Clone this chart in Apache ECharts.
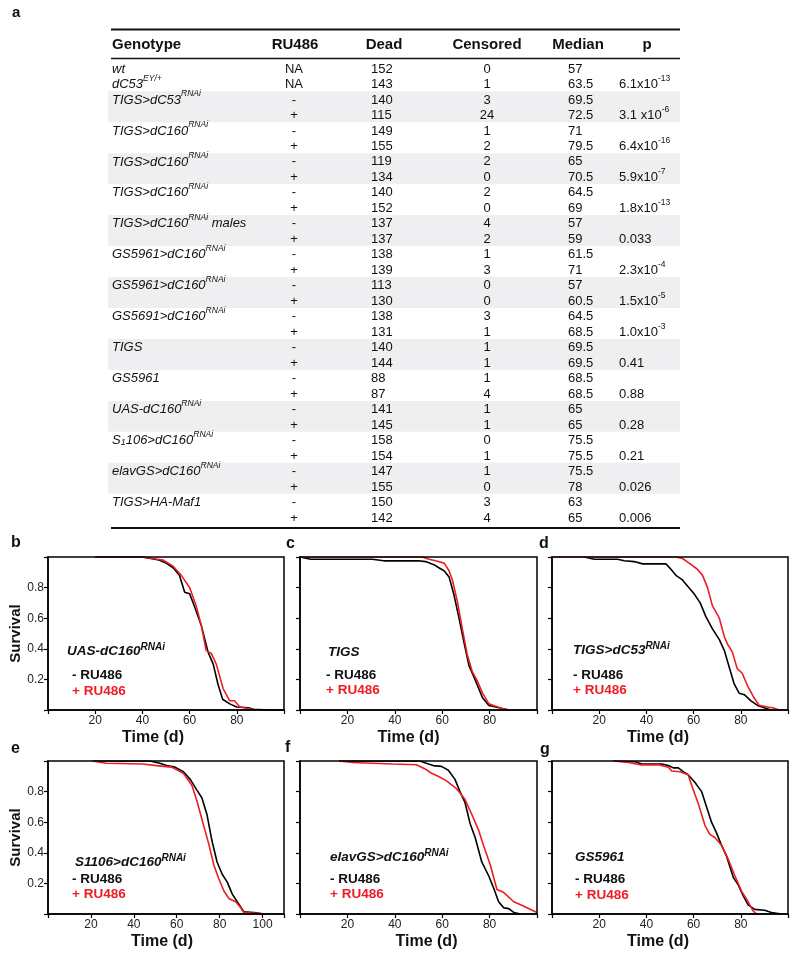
<!DOCTYPE html>
<html><head><meta charset="utf-8">
<script src="https://cdn.jsdelivr.net/npm/echarts@6/dist/echarts.min.js"></script>
<style>html,body{margin:0;padding:0;background:#fff}#c{width:800px;height:958px}</style>
</head><body><div id="c"></div>
<script>
// ---------------- table data ----------------
const columns = ['Genotype', 'RU486', 'Dead', 'Censored', 'Median', 'p'];
const genotype = ['wt', 'dC53^{EY/+}', 'TIGS>dC53^{RNAi}', '', 'TIGS>dC160^{RNAi}', '', 'TIGS>dC160^{RNAi}', '',
  'TIGS>dC160^{RNAi}', '', 'TIGS>dC160^{RNAi} males', '', 'GS5961>dC160^{RNAi}', '', 'GS5961>dC160^{RNAi}', '',
  'GS5691>dC160^{RNAi}', '', 'TIGS', '', 'GS5961', '', 'UAS-dC160^{RNAi}', '', 'S_{1}106>dC160^{RNAi}', '',
  'elavGS>dC160^{RNAi}', '', 'TIGS>HA-Maf1', ''];
const ru486 = ['NA', 'NA', '-', '+', '-', '+', '-', '+', '-', '+', '-', '+', '-', '+', '-', '+', '-', '+', '-', '+',
  '-', '+', '-', '+', '-', '+', '-', '+', '-', '+'];
const dead = [152, 143, 140, 115, 149, 155, 119, 134, 140, 152, 137, 137, 138, 139, 113, 130, 138, 131, 140, 144,
  88, 87, 141, 145, 158, 154, 147, 155, 150, 142];
const censored = [0, 1, 3, 24, 1, 2, 2, 0, 2, 0, 4, 2, 1, 3, 0, 0, 3, 1, 1, 1, 1, 4, 1, 1, 0, 1, 1, 0, 3, 4];
const median = ['57', '63.5', '69.5', '72.5', '71', '79.5', '65', '70.5', '64.5', '69', '57', '59', '61.5', '71',
  '57', '60.5', '64.5', '68.5', '69.5', '69.5', '68.5', '68.5', '65', '65', '75.5', '75.5', '75.5', '78', '63', '65'];
const pValue = ['', '6.1x10^{-13}', '', '3.1 x10^{-6}', '', '6.4x10^{-16}', '', '5.9x10^{-7}', '', '1.8x10^{-13}',
  '', '0.033', '', '2.3x10^{-4}', '', '1.5x10^{-5}', '', '1.0x10^{-3}', '', '0.41', '', '0.88', '', '0.28', '', '0.21',
  '', '0.026', '', '0.006'];
const shadedRows = [2, 6, 10, 14, 18, 22, 26]; // first row of each shaded pair

// ---------------- survival curves [day, fraction alive] ----------------
const bMinus = [[20,1],[40,1],[47,0.98],[50,0.96],[53,0.93],[55.7,0.88],[57.9,0.77],[60,0.76],[62,0.68],[65,0.55],[67.8,0.38],[70,0.30],[72,0.17],[74,0.07],[77,0.04],[80,0.02],[85,0.015],[87,0.005],[94,0],[100,0]];
const bPlus = [[20,1],[40,1],[48.7,0.98],[53,0.94],[56.5,0.88],[60,0.80],[62.8,0.68],[65,0.55],[67,0.39],[69.2,0.37],[71.3,0.30],[74.2,0.14],[77,0.06],[79,0.06],[81.3,0.02],[87,0.003],[90,0]];
const cMinus = [[0,1],[4.5,0.985],[30.5,0.985],[35.4,0.975],[50,0.975],[53,0.97],[56.5,0.95],[58.6,0.93],[60.8,0.91],[62.9,0.87],[65,0.75],[67.1,0.60],[69.2,0.44],[71.3,0.29],[74.1,0.19],[77,0.08],[79.7,0.03],[82.6,0.02],[85.4,0.01],[88,0]];
const cPlus = [[0,1],[51.6,1],[54.4,0.985],[57.2,0.975],[60.8,0.96],[62.9,0.91],[64.3,0.85],[66.4,0.71],[68.5,0.53],[70.6,0.36],[72.7,0.25],[74.8,0.19],[77,0.11],[79.7,0.04],[82.6,0.025],[85.4,0.01],[88.2,0]];
const dMinus = [[13.7,1],[17.9,0.985],[27.8,0.985],[30.6,0.975],[34.8,0.97],[38.4,0.955],[48.3,0.955],[50.4,0.92],[52.5,0.88],[55.3,0.85],[57.4,0.81],[60.2,0.76],[62.8,0.70],[65.2,0.61],[68,0.53],[70.9,0.46],[73,0.39],[75.1,0.28],[77.2,0.17],[79.3,0.11],[81.5,0.10],[84.3,0.06],[87.1,0.03],[89.9,0.015],[92.8,0]];
const dPlus = [[0,1],[52.5,1],[55.3,0.99],[58.1,0.96],[61.6,0.92],[63.8,0.88],[65.9,0.80],[68,0.68],[70.9,0.60],[73,0.48],[74.4,0.43],[76.4,0.38],[78.5,0.27],[80.6,0.24],[82.8,0.16],[85.6,0.08],[87.8,0.03],[91.4,0.02],[93.5,0.015],[96.3,0]];
const eMinus = [[20.8,1],[47.4,1],[52.1,0.985],[55.3,0.97],[59.2,0.96],[63.1,0.93],[66.3,0.88],[69.4,0.81],[71.7,0.76],[74.1,0.65],[76.4,0.48],[78.8,0.34],[81.2,0.26],[83.5,0.21],[85.9,0.13],[88.2,0.08],[91.3,0.015],[96,0.01],[100.7,0]];
const ePlus = [[20.8,1],[27,0.985],[44.3,0.98],[50.6,0.97],[57.6,0.96],[63.1,0.92],[67.1,0.84],[69.4,0.74],[72.5,0.58],[74.9,0.46],[77.3,0.32],[79.6,0.23],[82,0.15],[84.4,0.10],[87.5,0.08],[89.9,0.04],[91.3,0.01],[97.6,0.005],[100.7,0]];
const fMinus = [[16.5,1],[50.5,1],[53.3,0.985],[56.2,0.97],[59.7,0.965],[62.6,0.94],[65.4,0.88],[67.5,0.80],[69.6,0.73],[71.8,0.59],[73.9,0.50],[76.7,0.34],[79.6,0.25],[81.7,0.17],[83.8,0.08],[86,0.04],[88.1,0.035],[90.2,0.01],[93,0]];
const fPlus = [[16.5,1],[22.1,0.99],[39.1,0.98],[49.1,0.975],[52.6,0.95],[55.5,0.92],[58.3,0.90],[61.8,0.87],[66,0.82],[69.6,0.75],[72.5,0.65],[75.3,0.55],[77.4,0.45],[80.3,0.32],[83.1,0.16],[86,0.14],[90.2,0.08],[94.5,0.05],[97.3,0.03],[100,0.01]];
const gMinus = [[26,1],[35.2,0.995],[38,0.98],[46.5,0.98],[49.3,0.97],[51.4,0.955],[53.5,0.955],[55.6,0.93],[57.7,0.91],[60.6,0.86],[63.4,0.80],[65.5,0.70],[67.6,0.60],[69.7,0.53],[71.8,0.45],[73.9,0.38],[76.8,0.24],[78.9,0.19],[81,0.12],[83.1,0.06],[85.9,0.03],[90.1,0.025],[93,0.01],[97.2,0]];
const gPlus = [[26,1],[32.4,0.99],[37.3,0.975],[45,0.975],[49.3,0.96],[50.7,0.935],[54.2,0.93],[57.7,0.91],[59.2,0.84],[62,0.72],[64.8,0.58],[66.9,0.52],[69,0.50],[71.8,0.45],[74.6,0.36],[77.5,0.25],[80.3,0.15],[83.1,0.08],[85.2,0.02],[86.6,0]];

const panelGenotype = ['UAS-dC160^{RNAi}', 'TIGS', 'TIGS>dC53^{RNAi}', 'S1106>dC160^{RNAi}', 'elavGS>dC160^{RNAi}', 'GS5961'];
const panelLetter = ['b', 'c', 'd', 'e', 'f', 'g'];
const minusLabel = '- RU486', plusLabel = '+ RU486';
const xTitle = 'Time (d)', yTitle = 'Survival';

// ---------------- layout / style ----------------
const FONT = '"Liberation Sans", Arial, Helvetica, sans-serif';
const RED = '#ee1c24';
const INK = '#111';
const panels = [
  { left: 48,  top: 557, width: 236, xMax: 100, yLab: true,  minus: bMinus, plus: bPlus, shift: -13, ann: [67, 652, 72, 675, 691] },
  { left: 300, top: 557, width: 237, xMax: 100, yLab: false, minus: cMinus, plus: cPlus, shift: -10, ann: [328, 653, 326, 675, 690] },
  { left: 552, top: 557, width: 236, xMax: 100, yLab: false, minus: dMinus, plus: dPlus, shift: -12, ann: [573, 651, 573, 675, 690] },
  { left: 48,  top: 761, width: 236, xMax: 110, yLab: true,  minus: eMinus, plus: ePlus, shift: -4,  ann: [75, 863, 72, 879, 894] },
  { left: 300, top: 761, width: 237, xMax: 100, yLab: false, minus: fMinus, plus: fPlus, shift: 8,   ann: [330, 858, 330, 879, 894] },
  { left: 552, top: 761, width: 236, xMax: 100, yLab: false, minus: gMinus, plus: gPlus, shift: -12, ann: [575, 858, 575, 879, 895] }
];
const letterPos = [[15, 543], [290, 544], [543, 544], [15, 749], [289, 748], [544, 750]];
const PH = 153;
// table layout
const T = { left: 111, right: 680, firstRow: 68, lastRow: 517 };
const rowStep = (T.lastRow - T.firstRow) / (genotype.length - 1);
const colX = [1, 294, 371, 487, 568, 619];          // pixel anchors of columns
const colAlign = ['left', 'center', 'left', 'center', 'left', 'left'];
const headX = [112, 295, 384, 487, 578, 647];
const headAlign = ['left', 'center', 'center', 'center', 'center', 'center'];

function markup(str, base, sup, sub) {
  let out = '', last = 0, m;
  const re = /([\^_])\{([^}]*)\}/g;
  while ((m = re.exec(str))) {
    if (m.index > last) out += '{' + base + '|' + str.slice(last, m.index) + '}';
    out += '{' + (m[1] === '^' ? sup : sub) + '|' + m[2] + '}';
    last = re.lastIndex;
  }
  if (last < str.length) out += '{' + base + '|' + str.slice(last) + '}';
  return out;
}
function rs(size, extra) { return Object.assign({ fontSize: size, fontFamily: FONT, fill: INK }, extra || {}); }
const tableRich = {
  g: rs(13, { fontStyle: 'italic', verticalAlign: 'bottom', lineHeight: 17 }),
  gs: rs(8.5, { fontStyle: 'italic', verticalAlign: 'top' }),
  gb: rs(9, { fontStyle: 'italic', verticalAlign: 'bottom' }),
  n: rs(13, { verticalAlign: 'bottom', lineHeight: 17 }),
  ns: rs(8.5, { verticalAlign: 'top' })
};
const annRich = {
  g: rs(13.5, { fontStyle: 'italic', fontWeight: 'bold', verticalAlign: 'bottom', lineHeight: 16 }),
  gs: rs(10, { fontStyle: 'italic', fontWeight: 'bold', verticalAlign: 'top' })
};

function cellText(row, col) {
  const map = [genotype, ru486, dead, censored, median, pValue];
  const v = String(map[col][row]);
  if (col === 0) return markup(v, 'g', 'gs', 'gb');
  return markup(v, 'n', 'ns', 'ns');
}

const cells = [];
for (let r = 0; r < genotype.length; r++)
  for (let c = 0; c < columns.length; c++)
    if (String([genotype, ru486, dead, censored, median, pValue][c][r]) !== '') cells.push([c, r]);

// ---------------- option ----------------
const grid = [], xAxis = [], yAxis = [], series = [];
panels.forEach((p, i) => {
  grid.push({ left: p.left, top: p.top, width: p.width, height: PH, show: true, borderColor: '#000', borderWidth: 1.5,
    backgroundColor: 'transparent', z: 5, outerBoundsMode: 'none', containLabel: false });
  const pad = p.shift < 0 ? [0, -2 * p.shift, 0, 0] : [0, 0, 0, 2 * p.shift];
  xAxis.push({ gridIndex: i, type: 'value', min: 0, max: p.xMax, interval: 20, z: 6,
    axisLine: { show: true, onZero: false, lineStyle: { color: '#000', width: 1.5 } },
    axisTick: { show: true, inside: false, length: 4, lineStyle: { color: '#000', width: 1.2 } },
    axisLabel: { show: true, fontSize: 12, color: '#222', fontFamily: FONT, margin: 5,
      formatter: v => (v > 0 && v < p.xMax) ? String(v) : '' },
    splitLine: { show: false },
    name: xTitle, nameLocation: 'middle', nameGap: 20,
    nameTextStyle: { fontSize: 16, fontWeight: 'bold', color: INK, fontFamily: FONT, padding: pad } });
  yAxis.push({ gridIndex: i, type: 'value', min: 0, max: 1, interval: 0.2, z: 6,
    axisLine: { show: true, onZero: false, lineStyle: { color: '#000', width: 1.5 } },
    axisTick: { show: true, inside: false, length: 4, lineStyle: { color: '#000', width: 1.2 } },
    axisLabel: { show: p.yLab, fontSize: 12, color: '#222', fontFamily: FONT, margin: 4,
      formatter: v => (v > 0.01 && v < 0.99) ? v.toFixed(1) : '' },
    splitLine: { show: false },
    name: p.yLab ? yTitle : '', nameLocation: 'middle', nameGap: 21,
    nameTextStyle: { fontSize: 15, fontWeight: 'bold', color: INK, fontFamily: FONT } });
  series.push({ type: 'line', xAxisIndex: i, yAxisIndex: i, data: p.minus, showSymbol: false, symbol: 'none', z: 1,
    lineStyle: { color: '#000', width: 1.6 }, itemStyle: { color: '#000' }, silent: true });
  series.push({ type: 'line', xAxisIndex: i, yAxisIndex: i, data: p.plus, showSymbol: false, symbol: 'none', z: 1,
    lineStyle: { color: RED, width: 1.6 }, itemStyle: { color: RED }, silent: true });
});
// table grid
const TG = panels.length;
grid.push({ left: T.left, width: T.right - T.left, top: T.firstRow - rowStep / 2, height: rowStep * genotype.length,
  show: false, outerBoundsMode: 'none', containLabel: false });
xAxis.push({ gridIndex: TG, type: 'value', min: 0, max: T.right - T.left, show: false });
yAxis.push({ gridIndex: TG, type: 'category', inverse: true, show: false, data: genotype.map((g, i) => 'r' + i) });
series.push({ type: 'custom', xAxisIndex: TG, yAxisIndex: TG, z: 0, silent: true,
  data: shadedRows.map(r => [0, r]),
  renderItem: (params, api) => {
    const r = api.value(1);
    const a = api.coord([0, r]), b = api.coord([0, r + 1]);
    const h = api.size([0, 1])[1];
    return { type: 'rect', shape: { x: params.coordSys.x - 3, y: a[1] - h / 2, width: params.coordSys.width + 3, height: b[1] - a[1] + h },
      style: { fill: '#efeff1' } };
  } });
series.push({ type: 'custom', xAxisIndex: TG, yAxisIndex: TG, z: 2, silent: true,
  data: cells,
  renderItem: (params, api) => {
    const c = api.value(0), r = api.value(1);
    const pt = api.coord([colX[c] - (c === 0 ? 0 : T.left), r]);
    return { type: 'text', x: pt[0], y: pt[1] - 1, style: { text: cellText(r, c), rich: tableRich,
      align: colAlign[c], verticalAlign: 'middle', fill: INK, font: '13px ' + FONT } };
  } });

// graphics: rules, header, letters, annotations
const graphic = [];
const rule = (y, w) => ({ type: 'line', shape: { x1: T.left, y1: y, x2: T.right, y2: y }, style: { stroke: '#111', lineWidth: w }, silent: true });
graphic.push(rule(29.5, 2), rule(58.5, 1.5), rule(528, 2));
columns.forEach((c, i) => graphic.push({ type: 'text', x: headX[i], y: 45, silent: true,
  style: { text: c, font: 'bold 15px ' + FONT, fill: INK, align: headAlign[i], verticalAlign: 'middle' } }));
graphic.push({ type: 'text', x: 12, y: 13, style: { text: 'a', font: 'bold 15px ' + FONT, fill: INK, align: 'left', verticalAlign: 'middle' } });
panels.forEach((p, i) => {
  graphic.push({ type: 'text', x: letterPos[i][0] - 4, y: letterPos[i][1], silent: true,
    style: { text: panelLetter[i], font: 'bold 16px ' + FONT, fill: INK, align: 'left', verticalAlign: 'middle' } });
  const gtxt = markup(panelGenotype[i], 'g', 'gs', 'gs');
  graphic.push({ type: 'text', x: p.ann[0], y: p.ann[1] - 2, silent: true,
    style: { text: gtxt, rich: annRich, align: 'left', verticalAlign: 'middle', font: 'bold italic 13.5px ' + FONT, fill: INK } });
  graphic.push({ type: 'text', x: p.ann[2], y: p.ann[3], silent: true,
    style: { text: minusLabel, font: 'bold 13.5px ' + FONT, fill: INK, align: 'left', verticalAlign: 'middle' } });
  graphic.push({ type: 'text', x: p.ann[2], y: p.ann[4], silent: true,
    style: { text: plusLabel, font: 'bold 13.5px ' + FONT, fill: RED, align: 'left', verticalAlign: 'middle' } });
});

const chart = echarts.init(document.getElementById('c'), null, { renderer: 'canvas' });
chart.setOption({ animation: false, backgroundColor: '#fff', grid, xAxis, yAxis, series, graphic });
</script></body></html>
